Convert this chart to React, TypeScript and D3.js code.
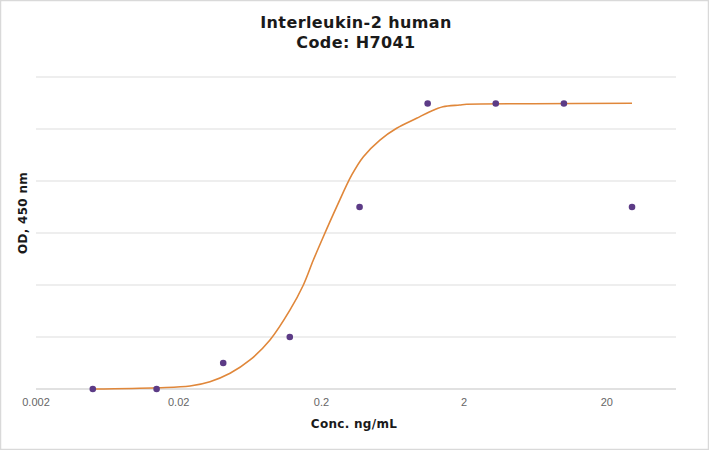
import React from "react";
import * as d3 from "d3";

// concentrations (ng/mL) and measured OD
const concentrations = [0.005, 0.014, 0.041, 0.12, 0.37, 1.11, 3.33, 10, 30];
const odValues = [0, 0, 0.25, 0.5, 1.75, 2.745, 2.745, 2.745, 1.75];

// fitted curve
const fitConc = [
  0.005, 0.0141, 0.024, 0.0331, 0.0458, 0.0632, 0.0872, 0.1205, 0.1494, 0.1755, 0.2062, 0.256,
  0.3262, 0.3936, 0.5137, 0.6727, 0.9286, 1.148, 1.42, 1.859, 2.08, 6.05, 30,
];
const fitOd = [
  0, 0.0125, 0.0288, 0.0702, 0.151, 0.279, 0.471, 0.76, 1.0, 1.24, 1.464, 1.753,
  2.058, 2.234, 2.394, 2.507, 2.603, 2.666, 2.714, 2.731, 2.738, 2.743, 2.747,
];

const xTicks = [0.002, 0.02, 0.2, 2, 20];
const yGrid = [0, 0.5, 1, 1.5, 2, 2.5, 3];

const W = 709;
const H = 450;
const boldFont = "'DejaVu Sans', Verdana, sans-serif";

export default function App() {
  const x = d3.scaleLog().domain([0.002, 61]).range([36, 676]);
  const y = d3.scaleLinear().domain([0, 3]).range([389, 77]);

  const line = d3
    .line<number>()
    .x((d, i) => x(fitConc[i]))
    .y((d) => y(d))
    .curve(d3.curveCatmullRom.alpha(0.5));

  return (
    <svg
      width={W}
      height={H}
      style={{ position: "fixed", left: 0, top: 0, background: "#fff" }}
      fontFamily="'Liberation Sans', Arial, sans-serif"
    >
      <rect x={0.5} y={0.5} width={W - 1} height={H - 1} fill="#fff" stroke="#d9d9d9" strokeWidth={1.5} />

      {/* title */}
      <text x={356} y={28} textAnchor="middle" fontFamily={boldFont} fontWeight="bold" fontSize={16} letterSpacing={0.4} fill="#1a1a1a">
        Interleukin-2 human
      </text>
      <text x={356} y={48} textAnchor="middle" fontFamily={boldFont} fontWeight="bold" fontSize={16} letterSpacing={0.4} fill="#1a1a1a">
        Code: H7041
      </text>

      {/* grid */}
      {yGrid.map((v) => (
        <line
          key={v}
          x1={36}
          x2={676}
          y1={y(v)}
          y2={y(v)}
          stroke={v === 0 ? "#c4c4c4" : "#dedede"}
          strokeWidth={1.2}
        />
      ))}

      {/* x tick labels */}
      {xTicks.map((t) => (
        <text key={t} x={x(t)} y={406} textAnchor="middle" fontSize={11} fill="#666">
          {t}
        </text>
      ))}

      {/* axis titles */}
      <text x={354} y={428} textAnchor="middle" fontFamily={boldFont} fontWeight="bold" fontSize={12} letterSpacing={0.3} fill="#1a1a1a">
        Conc. ng/mL
      </text>
      <text
        transform={`translate(27,213) rotate(-90)`}
        textAnchor="middle"
        fontFamily={boldFont}
        fontWeight="bold"
        fontSize={12}
        letterSpacing={0.3}
        fill="#1a1a1a"
      >
        OD, 450 nm
      </text>

      {/* fitted curve */}
      <path d={line(fitOd) ?? ""} fill="none" stroke="#e0873a" strokeWidth={1.6} />

      {/* measured points */}
      {concentrations.map((c, i) => (
        <circle key={c} cx={x(c)} cy={y(odValues[i])} r={3.3} fill="#5c3b86" />
      ))}
    </svg>
  );
}
